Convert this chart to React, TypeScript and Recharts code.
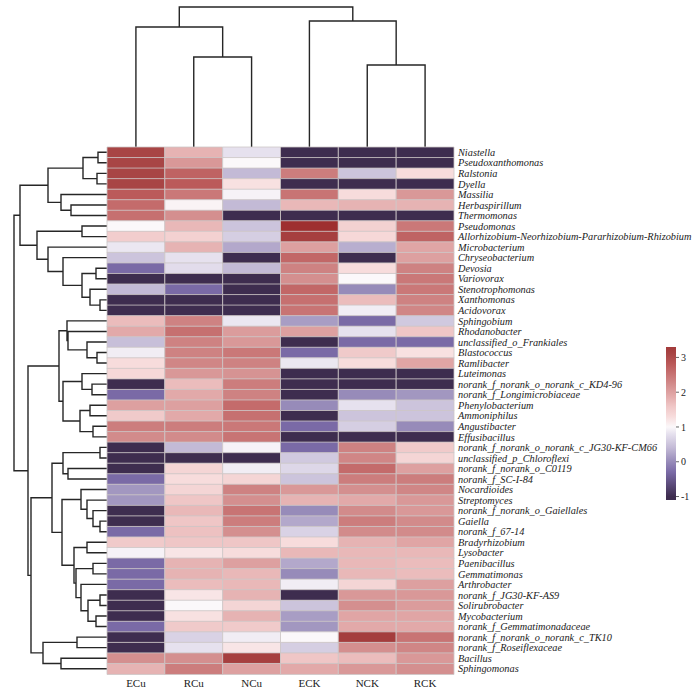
import React from 'react';
import { BarChart, Bar, Cell, XAxis, YAxis, LineChart, Line } from 'recharts';

const columns = ['ECu', 'RCu', 'NCu', 'ECK', 'NCK', 'RCK'];

const genera = [
  'Niastella', 'Pseudoxanthomonas', 'Ralstonia', 'Dyella', 'Massilia', 'Herbaspirillum', 'Thermomonas',
  'Pseudomonas', 'Allorhizobium-Neorhizobium-Pararhizobium-Rhizobium', 'Microbacterium', 'Chryseobacterium',
  'Devosia', 'Variovorax', 'Stenotrophomonas', 'Xanthomonas', 'Acidovorax', 'Sphingobium', 'Rhodanobacter',
  'unclassified_o_Frankiales', 'Blastococcus', 'Ramlibacter', 'Luteimonas', 'norank_f_norank_o_norank_c_KD4-96',
  'norank_f_Longimicrobiaceae', 'Phenylobacterium', 'Ammoniphilus', 'Angustibacter', 'Effusibacillus',
  'norank_f_norank_o_norank_c_JG30-KF-CM66', 'unclassified_p_Chloroflexi', 'norank_f_norank_o_C0119',
  'norank_f_SC-I-84', 'Nocardioides', 'Streptomyces', 'norank_f_norank_o_Gaiellales', 'Gaiella',
  'norank_f_67-14', 'Bradyrhizobium', 'Lysobacter', 'Paenibacillus', 'Gemmatimonas', 'Arthrobacter',
  'norank_f_JG30-KF-AS9', 'Solirubrobacter', 'Mycobacterium', 'norank_f_Gemmatimonadaceae',
  'norank_f_norank_o_norank_c_TK10', 'norank_f_Roseiflexaceae', 'Bacillus', 'Sphingomonas',
];

// z-scores per column, same order as genera
const ECu = [3.1, 3.1, 3.1, 3.1, 2.8, 2.6, 2.55, 1.0, 1.5, 0.85, 0.5, -0.3, -1, 0.4, -1, -1, 1.7, 1.9, 0.45, 0.9,
  1.3, 1.35, -1, -0.3, 2.0, 1.55, 2.4, 2.25, -1, -1, -1, -0.3, 0.1, 0.1, -1, -1, -0.3, 1.55, 0.95, -0.3,
  -0.3, -0.3, -1, -1, -1, -0.3, -1, -1, 2.2, 1.8];
const RCu = [1.8, 2.1, 2.7, 2.8, 2.45, 1.05, 2.2, 1.75, 1.45, 1.8, 0.8, 0.75, -1, -0.3, -1, -1, 2.35, 2.55, 2.35, 2.35,
  2.3, 2.1, 1.7, 1.9, 2.0, 1.9, 2.4, 2.25, 0.4, -1, 1.4, 1.3, 1.4, 1.6, 1.75, 1.6, 1.65, 1.6, 1.2, 1.8,
  1.8, 1.7, 1.2, 1.0, 1.25, 1.55, 0.65, 0.8, 2.2, 2.4];
const NCu = [0.8, 1.0, 0.4, 1.25, 0.95, 0.4, -1, 0.5, 0.6, 0.25, -1, 0.4, -1, -1, -1, -1, 0.85, 2.05, 2.1, 2.45,
  2.35, 2.15, 2.4, 2.35, 2.6, 2.55, 2.45, 2.5, 0.95, -1, 0.9, 1.4, 2.35, 2.2, 2.5, 2.4, 2.2, 1.6, 1.3, 2.0,
  1.75, 1.75, 1.8, 1.4, 1.8, 1.55, 0.9, 1.2, 3.2, 2.0];
const ECK = [-1, -1, 2.4, -1, 2.5, 1.75, -1, 3.5, 3.2, 2.0, 2.65, 2.35, 2.2, 2.65, 2.55, 2.5, 0.15, 2.0, -1, -0.3,
  0.85, -1, -1, -1, 0.0, -1, -0.3, -1, -0.3, 0.55, 0.7, 0.5, 2.1, 1.8, 0.0, 0.25, 0.65, 1.3, 1.75, 0.25,
  0.0, 0.9, -1, 0.5, 0.15, 0.1, 1.0, 0.6, 1.6, 1.9];
const NCK = [-1, -1, 0.5, -1, 1.3, 1.8, -1, 1.45, 1.35, 0.3, -1, 1.3, 1.0, 0.0, 1.7, 0.9, -0.3, 0.8, -0.3, 1.55,
  1.3, -1, -1, 0.0, 0.8, 0.5, 0.6, -1, 2.35, 2.3, 2.6, 2.4, 2.2, 1.9, 2.25, 2.4, 2.25, 1.8, 1.75, 1.75,
  1.75, 1.4, 2.1, 2.2, 1.95, 1.9, 3.25, 2.2, 1.7, 2.1];
const RCK = [-1, -1, 1.3, -1, 2.1, 1.8, -1, 2.45, 2.7, 1.95, 2.0, 2.35, 2.45, 2.45, 2.35, 2.3, 0.55, 1.6, -0.3, 1.25,
  1.95, -1, -1, 0.1, 0.5, 0.5, 0.0, -1, 1.55, 1.4, 2.0, 2.4, 2.3, 2.1, 2.1, 2.25, 2.25, 1.95, 1.75, 1.7,
  1.7, 2.0, 2.1, 2.05, 1.95, 1.9, 2.5, 2.3, 2.1, 2.2];

const seriesValues = [ECu, RCu, NCu, ECK, NCK, RCK];

// dendrograms: [left, right, mergeHeight], leaves are indices
const colTree = [[0, [1, 2, 90], 120], [3, [4, 5, 82], 126], 140];

const rowTreeA = [
  [[[0, 1, 9], [2, 3, 10], 24], [4, [5, 6, 36], 46], 59],
  [[7, 8, 25], [9, [10, [[11, 12, 11], [13, [14, 15, 7], 17], 25], 44], 59], 70],
  87,
];
const rowTreeB = [
  [16, [17, [18, [19, 20, 10], 20], 39], 40],
  [[21, [22, 23, 15], 25], [[24, 25, 17], [26, 27, 14], 27], 44],
  48,
];
const rowTreeC = [
  [
    [[28, 29, 7], [30, 31, 39], 44],
    [
      [32, [33, [34, [35, 36, 7], 14], 20], 26],
      [[37, 38, 20], [[39, 40, 14], [41, [[42, 43, 7], [44, 45, 11], 19], 26], 31], 33],
      45,
    ],
    55,
  ],
  [[46, 47, 30], [48, 49, 46], 64],
  76,
];
const rowTree = [rowTreeA, [rowTreeB, rowTreeC, 79], 93];

const colorStops: [number, string][] = [
  [-1, '#3e2d4f'], [-0.3, '#7a6aa6'], [0, '#978bb9'], [0.4, '#c3bad6'], [0.8, '#e6e1ee'], [1.0, '#fbf8fa'],
  [1.3, '#f7dcdc'], [1.6, '#efc6c6'], [1.9, '#e2a9a9'], [2.2, '#d48f8f'], [2.5, '#c87474'], [2.8, '#bb5a5a'],
  [3.1, '#a84545'], [3.5, '#9e2f2f'],
];

const hex = (c: string) => [1, 3, 5].map((i) => parseInt(c.slice(i, i + 2), 16));

const colorFor = (v: number) => {
  if (v <= colorStops[0][0]) return colorStops[0][1];
  for (let i = 1; i < colorStops.length; i++) {
    const [v1, c1] = colorStops[i];
    if (v <= v1) {
      const [v0, c0] = colorStops[i - 1];
      const t = (v - v0) / (v1 - v0);
      const a = hex(c0);
      const b = hex(c1);
      return `rgb(${a.map((x, k) => Math.round(x + (b[k] - x) * t)).join(',')})`;
    }
  }
  return colorStops[colorStops.length - 1][1];
};

function walk(node: any, out: any[]): { pos: number; h: number } {
  if (typeof node === 'number') return { pos: node + 0.5, h: 0 };
  const a = walk(node[0], out);
  const b = walk(node[1], out);
  const H = node[2];
  out.push([a.h, a.pos], [H, a.pos], [H, b.pos], [b.h, b.pos], null);
  return { pos: (a.pos + b.pos) / 2, h: H };
}

const toPoints = (tree: any, horizontal: boolean) => {
  const segs: any[] = [];
  walk(tree, segs);
  let last: any = [0, 0];
  return segs.map((s) => {
    if (s === null) return horizontal ? { h: last[0], p: null } : { p: last[1], h: null };
    last = s;
    return { h: s[0], p: s[1] };
  });
};

const heatData = genera.map((name) => ({ name, ECu: 1, RCu: 1, NCu: 1, ECK: 1, NCK: 1, RCK: 1 }));
const topLine = toPoints(colTree, false);
const leftLine = toPoints(rowTree, true);

const legendTicks = [-1, 0, 1, 2, 3];
const legendMin = -1.1;
const legendMax = 3.3;
const legendData = [{ name: 'key', range: [legendMin, legendMax] }];

// gradient runs top (high) to bottom (low)
const legendStops = [[legendMax, colorFor(legendMax)], ...colorStops.filter(([v]) => v > legendMin && v < legendMax).reverse(), [legendMin, colorFor(legendMin)]] as [number, string][];

const serif = '"Liberation Serif", "Times New Roman", serif';

export default function App() {
  return (
    <div style={{ position: 'absolute', left: 0, top: 0, width: 700, height: 691, background: '#fff' }}>
      <svg width={0} height={0} style={{ position: 'absolute' }}>
        <defs>
          <linearGradient id="heatGrad" x1="0" y1="0" x2="0" y2="1">
            {legendStops.map(([v, c]) => (
              <stop key={v} offset={(legendMax - v) / (legendMax - legendMin)} stopColor={c} />
            ))}
          </linearGradient>
        </defs>
      </svg>

      {/* column dendrogram */}
      <div style={{ position: 'absolute', left: 107, top: 0 }}>
        <LineChart width={347} height={147} data={topLine} margin={{ top: 0, right: 0, bottom: 0, left: 0 }}>
          <XAxis type="number" dataKey="p" domain={[0, 6]} hide />
          <YAxis type="number" domain={[0, 147]} hide />
          <Line dataKey="h" stroke="#262626" strokeWidth={1.4} dot={false} isAnimationActive={false} />
        </LineChart>
      </div>

      {/* row dendrogram */}
      <div style={{ position: 'absolute', left: 0, top: 147 }}>
        <LineChart width={107} height={527} data={leftLine} margin={{ top: 0, right: 0, bottom: 0, left: 0 }}>
          <XAxis type="number" dataKey="h" domain={[0, 107]} reversed hide />
          <YAxis type="number" domain={[0, 50]} reversed hide />
          <Line dataKey="p" stroke="#262626" strokeWidth={1.4} dot={false} isAnimationActive={false} />
        </LineChart>
      </div>

      {/* heatmap */}
      <div style={{ position: 'absolute', left: 0, top: 0 }}>
        <BarChart
          width={700}
          height={691}
          data={heatData}
          layout="vertical"
          barCategoryGap={0}
          margin={{ top: 147, right: 6, bottom: 0, left: 107 }}
        >
          <XAxis
            type="number"
            domain={[0, 6]}
            ticks={columns.map((_, i) => i + 0.5)}
            tickFormatter={(v: number) => columns[Math.floor(v)]}
            height={17}
            tickSize={0}
            tickMargin={5}
            axisLine={false}
            tick={{ fontSize: 11, fontFamily: serif, fill: '#222' }}
          />
          <YAxis
            type="category"
            dataKey="name"
            orientation="right"
            width={240}
            interval={0}
            tickSize={0}
            tickMargin={4}
            axisLine={false}
            tick={{ fontSize: 10.3, fontFamily: serif, fontStyle: 'italic', fill: '#222' }}
          />
          {columns.map((col, ci) => (
            <Bar key={col} dataKey={col} stackId="h" isAnimationActive={false}>
              {genera.map((g, ri) => (
                <Cell key={g} fill={colorFor(seriesValues[ci][ri])} stroke="#cdc6c6" strokeWidth={0.8} />
              ))}
            </Bar>
          ))}
        </BarChart>
      </div>

      {/* colour key */}
      <div style={{ position: 'absolute', left: 660, top: 340 }}>
        <BarChart
          width={40}
          height={170}
          data={legendData}
          barCategoryGap={0}
          margin={{ top: 7, right: 0, bottom: 10, left: 6 }}
        >
          <XAxis type="category" dataKey="name" hide />
          <YAxis
            type="number"
            orientation="right"
            domain={[legendMin, legendMax]}
            allowDataOverflow
            ticks={legendTicks}
            width={24}
            tickSize={3}
            tickMargin={2}
            axisLine={false}
            tick={{ fontSize: 10, fontFamily: serif, fill: '#222' }}
          />
          <Bar dataKey="range" fill="url(#heatGrad)" isAnimationActive={false} />
        </BarChart>
      </div>
    </div>
  );
}
